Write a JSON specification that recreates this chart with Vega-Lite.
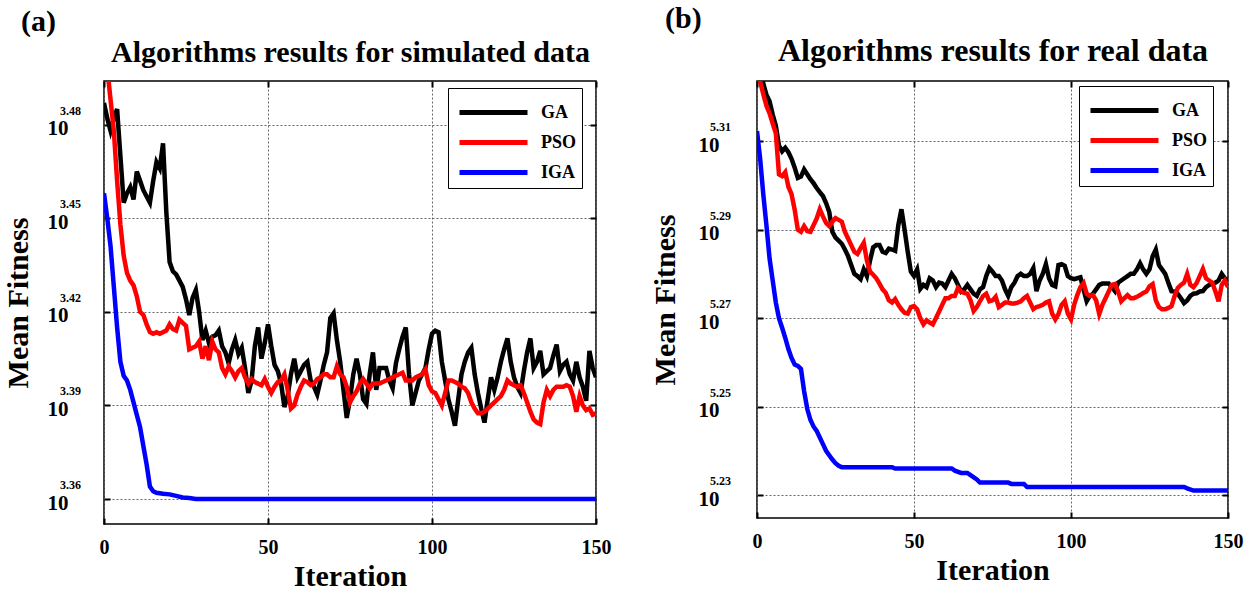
{
  "$schema": "https://vega.github.io/schema/vega-lite/v6.json",
  "background": "white",
  "padding": {"left": 2, "top": 3, "right": 5, "bottom": 5},
  "config": {
    "view": {"stroke": "black", "strokeWidth": 1.5},
    "font": "Liberation Serif",
    "text": {"font": "Liberation Serif"}
  },
  "resolve": {"scale": {"color": "independent"}, "legend": {"color": "independent"}},
  "datasets": {
    "sim": [
      {"alg":"GA","iter":0,"v":3.487},{"alg":"GA","iter":1,"v":3.482},{"alg":"GA","iter":2,"v":3.478},{"alg":"GA","iter":3,"v":3.482},{"alg":"GA","iter":4,"v":3.485},{"alg":"GA","iter":5,"v":3.47},{"alg":"GA","iter":6,"v":3.455},{"alg":"GA","iter":7,"v":3.458},{"alg":"GA","iter":8,"v":3.46},{"alg":"GA","iter":9,"v":3.456},
      {"alg":"GA","iter":10,"v":3.465},{"alg":"GA","iter":11,"v":3.462},{"alg":"GA","iter":12,"v":3.459},{"alg":"GA","iter":13,"v":3.457},{"alg":"GA","iter":14,"v":3.455},{"alg":"GA","iter":15,"v":3.462},{"alg":"GA","iter":16,"v":3.468},{"alg":"GA","iter":17,"v":3.466},{"alg":"GA","iter":18,"v":3.474},{"alg":"GA","iter":19,"v":3.452},
      {"alg":"GA","iter":20,"v":3.436},{"alg":"GA","iter":21,"v":3.433},{"alg":"GA","iter":22,"v":3.432},{"alg":"GA","iter":23,"v":3.43},{"alg":"GA","iter":24,"v":3.428},{"alg":"GA","iter":25,"v":3.424},{"alg":"GA","iter":26,"v":3.419},{"alg":"GA","iter":27,"v":3.4245},{"alg":"GA","iter":28,"v":3.427},{"alg":"GA","iter":29,"v":3.42},
      {"alg":"GA","iter":30,"v":3.411},{"alg":"GA","iter":31,"v":3.414},{"alg":"GA","iter":32,"v":3.41},{"alg":"GA","iter":33,"v":3.412},{"alg":"GA","iter":34,"v":3.4125},{"alg":"GA","iter":35,"v":3.414},{"alg":"GA","iter":36,"v":3.409},{"alg":"GA","iter":37,"v":3.407},{"alg":"GA","iter":38,"v":3.4035},{"alg":"GA","iter":39,"v":3.408},
      {"alg":"GA","iter":40,"v":3.411},{"alg":"GA","iter":41,"v":3.4065},{"alg":"GA","iter":42,"v":3.4085},{"alg":"GA","iter":43,"v":3.402},{"alg":"GA","iter":44,"v":3.394},{"alg":"GA","iter":45,"v":3.398},{"alg":"GA","iter":46,"v":3.409},{"alg":"GA","iter":47,"v":3.415},{"alg":"GA","iter":48,"v":3.405},{"alg":"GA","iter":49,"v":3.41},
      {"alg":"GA","iter":50,"v":3.416},{"alg":"GA","iter":51,"v":3.409},{"alg":"GA","iter":52,"v":3.403},{"alg":"GA","iter":53,"v":3.401},{"alg":"GA","iter":54,"v":3.397},{"alg":"GA","iter":55,"v":3.3895},{"alg":"GA","iter":56,"v":3.393},{"alg":"GA","iter":57,"v":3.4},{"alg":"GA","iter":58,"v":3.405},{"alg":"GA","iter":59,"v":3.399},
      {"alg":"GA","iter":60,"v":3.401},{"alg":"GA","iter":61,"v":3.403},{"alg":"GA","iter":62,"v":3.404},{"alg":"GA","iter":63,"v":3.398},{"alg":"GA","iter":64,"v":3.396},{"alg":"GA","iter":65,"v":3.3935},{"alg":"GA","iter":66,"v":3.398},{"alg":"GA","iter":67,"v":3.403},{"alg":"GA","iter":68,"v":3.407},{"alg":"GA","iter":69,"v":3.418},
      {"alg":"GA","iter":70,"v":3.4195},{"alg":"GA","iter":71,"v":3.411},{"alg":"GA","iter":72,"v":3.404},{"alg":"GA","iter":73,"v":3.395},{"alg":"GA","iter":74,"v":3.386},{"alg":"GA","iter":75,"v":3.392},{"alg":"GA","iter":76,"v":3.4},{"alg":"GA","iter":77,"v":3.405},{"alg":"GA","iter":78,"v":3.4},{"alg":"GA","iter":79,"v":3.392},
      {"alg":"GA","iter":80,"v":3.3905},{"alg":"GA","iter":81,"v":3.4},{"alg":"GA","iter":82,"v":3.407},{"alg":"GA","iter":83,"v":3.395},{"alg":"GA","iter":84,"v":3.402},{"alg":"GA","iter":85,"v":3.402},{"alg":"GA","iter":86,"v":3.402},{"alg":"GA","iter":87,"v":3.398},{"alg":"GA","iter":88,"v":3.3955},{"alg":"GA","iter":89,"v":3.4035},
      {"alg":"GA","iter":90,"v":3.408},{"alg":"GA","iter":91,"v":3.412},{"alg":"GA","iter":92,"v":3.415},{"alg":"GA","iter":93,"v":3.4},{"alg":"GA","iter":94,"v":3.39},{"alg":"GA","iter":95,"v":3.394},{"alg":"GA","iter":96,"v":3.398},{"alg":"GA","iter":97,"v":3.4},{"alg":"GA","iter":98,"v":3.402},{"alg":"GA","iter":99,"v":3.408},
      {"alg":"GA","iter":100,"v":3.413},{"alg":"GA","iter":101,"v":3.414},{"alg":"GA","iter":102,"v":3.4135},{"alg":"GA","iter":103,"v":3.404},{"alg":"GA","iter":104,"v":3.398},{"alg":"GA","iter":105,"v":3.392},{"alg":"GA","iter":106,"v":3.388},{"alg":"GA","iter":107,"v":3.3835},{"alg":"GA","iter":108,"v":3.392},{"alg":"GA","iter":109,"v":3.4},
      {"alg":"GA","iter":110,"v":3.404},{"alg":"GA","iter":111,"v":3.407},{"alg":"GA","iter":112,"v":3.4085},{"alg":"GA","iter":113,"v":3.4},{"alg":"GA","iter":114,"v":3.394},{"alg":"GA","iter":115,"v":3.389},{"alg":"GA","iter":116,"v":3.3845},{"alg":"GA","iter":117,"v":3.392},{"alg":"GA","iter":118,"v":3.399},{"alg":"GA","iter":119,"v":3.395},
      {"alg":"GA","iter":120,"v":3.399},{"alg":"GA","iter":121,"v":3.404},{"alg":"GA","iter":122,"v":3.408},{"alg":"GA","iter":123,"v":3.4115},{"alg":"GA","iter":124,"v":3.404},{"alg":"GA","iter":125,"v":3.399},{"alg":"GA","iter":126,"v":3.396},{"alg":"GA","iter":127,"v":3.394},{"alg":"GA","iter":128,"v":3.401},{"alg":"GA","iter":129,"v":3.407},
      {"alg":"GA","iter":130,"v":3.4115},{"alg":"GA","iter":131,"v":3.402},{"alg":"GA","iter":132,"v":3.404},{"alg":"GA","iter":133,"v":3.4075},{"alg":"GA","iter":134,"v":3.4},{"alg":"GA","iter":135,"v":3.401},{"alg":"GA","iter":136,"v":3.402},{"alg":"GA","iter":137,"v":3.406},{"alg":"GA","iter":138,"v":3.4095},{"alg":"GA","iter":139,"v":3.401},
      {"alg":"GA","iter":140,"v":3.403},{"alg":"GA","iter":141,"v":3.404},{"alg":"GA","iter":142,"v":3.4},{"alg":"GA","iter":143,"v":3.398},{"alg":"GA","iter":144,"v":3.404},{"alg":"GA","iter":145,"v":3.399},{"alg":"GA","iter":146,"v":3.396},{"alg":"GA","iter":147,"v":3.3915},{"alg":"GA","iter":148,"v":3.4075},{"alg":"GA","iter":149,"v":3.402},{"alg":"GA","iter":150,"v":3.399},
      {"alg":"PSO","iter":0,"v":3.505},{"alg":"PSO","iter":1,"v":3.498},{"alg":"PSO","iter":2,"v":3.488},{"alg":"PSO","iter":3,"v":3.478},{"alg":"PSO","iter":4,"v":3.462},{"alg":"PSO","iter":5,"v":3.448},{"alg":"PSO","iter":6,"v":3.438},{"alg":"PSO","iter":7,"v":3.4325},{"alg":"PSO","iter":8,"v":3.43},{"alg":"PSO","iter":9,"v":3.4285},
      {"alg":"PSO","iter":10,"v":3.425},{"alg":"PSO","iter":11,"v":3.42},{"alg":"PSO","iter":12,"v":3.419},{"alg":"PSO","iter":13,"v":3.416},{"alg":"PSO","iter":14,"v":3.4135},{"alg":"PSO","iter":15,"v":3.413},{"alg":"PSO","iter":16,"v":3.4135},{"alg":"PSO","iter":17,"v":3.413},{"alg":"PSO","iter":18,"v":3.4135},{"alg":"PSO","iter":19,"v":3.414},
      {"alg":"PSO","iter":20,"v":3.416},{"alg":"PSO","iter":21,"v":3.4145},{"alg":"PSO","iter":22,"v":3.414},{"alg":"PSO","iter":23,"v":3.4175},{"alg":"PSO","iter":24,"v":3.4165},{"alg":"PSO","iter":25,"v":3.4155},{"alg":"PSO","iter":26,"v":3.408},{"alg":"PSO","iter":27,"v":3.4085},{"alg":"PSO","iter":28,"v":3.409},{"alg":"PSO","iter":29,"v":3.4105},
      {"alg":"PSO","iter":30,"v":3.405},{"alg":"PSO","iter":31,"v":3.409},{"alg":"PSO","iter":32,"v":3.4045},{"alg":"PSO","iter":33,"v":3.4105},{"alg":"PSO","iter":34,"v":3.408},{"alg":"PSO","iter":35,"v":3.407},{"alg":"PSO","iter":36,"v":3.402},{"alg":"PSO","iter":37,"v":3.4},{"alg":"PSO","iter":38,"v":3.4025},{"alg":"PSO","iter":39,"v":3.401},
      {"alg":"PSO","iter":40,"v":3.399},{"alg":"PSO","iter":41,"v":3.401},{"alg":"PSO","iter":42,"v":3.402},{"alg":"PSO","iter":43,"v":3.399},{"alg":"PSO","iter":44,"v":3.397},{"alg":"PSO","iter":45,"v":3.3985},{"alg":"PSO","iter":46,"v":3.3975},{"alg":"PSO","iter":47,"v":3.397},{"alg":"PSO","iter":48,"v":3.3965},{"alg":"PSO","iter":49,"v":3.3985},
      {"alg":"PSO","iter":50,"v":3.396},{"alg":"PSO","iter":51,"v":3.394},{"alg":"PSO","iter":52,"v":3.396},{"alg":"PSO","iter":53,"v":3.3975},{"alg":"PSO","iter":54,"v":3.398},{"alg":"PSO","iter":55,"v":3.4},{"alg":"PSO","iter":56,"v":3.395},{"alg":"PSO","iter":57,"v":3.389},{"alg":"PSO","iter":58,"v":3.39},{"alg":"PSO","iter":59,"v":3.3935},
      {"alg":"PSO","iter":60,"v":3.396},{"alg":"PSO","iter":61,"v":3.398},{"alg":"PSO","iter":62,"v":3.3975},{"alg":"PSO","iter":63,"v":3.3965},{"alg":"PSO","iter":64,"v":3.397},{"alg":"PSO","iter":65,"v":3.3985},{"alg":"PSO","iter":66,"v":3.399},{"alg":"PSO","iter":67,"v":3.4},{"alg":"PSO","iter":68,"v":3.4},{"alg":"PSO","iter":69,"v":3.399},
      {"alg":"PSO","iter":70,"v":3.399},{"alg":"PSO","iter":71,"v":3.4025},{"alg":"PSO","iter":72,"v":3.4},{"alg":"PSO","iter":73,"v":3.399},{"alg":"PSO","iter":74,"v":3.396},{"alg":"PSO","iter":75,"v":3.391},{"alg":"PSO","iter":76,"v":3.393},{"alg":"PSO","iter":77,"v":3.3945},{"alg":"PSO","iter":78,"v":3.397},{"alg":"PSO","iter":79,"v":3.3985},
      {"alg":"PSO","iter":80,"v":3.397},{"alg":"PSO","iter":81,"v":3.3955},{"alg":"PSO","iter":82,"v":3.397},{"alg":"PSO","iter":83,"v":3.397},{"alg":"PSO","iter":84,"v":3.397},{"alg":"PSO","iter":85,"v":3.3975},{"alg":"PSO","iter":86,"v":3.398},{"alg":"PSO","iter":87,"v":3.3985},{"alg":"PSO","iter":88,"v":3.399},{"alg":"PSO","iter":89,"v":3.3995},
      {"alg":"PSO","iter":90,"v":3.4},{"alg":"PSO","iter":91,"v":3.4005},{"alg":"PSO","iter":92,"v":3.398},{"alg":"PSO","iter":93,"v":3.398},{"alg":"PSO","iter":94,"v":3.398},{"alg":"PSO","iter":95,"v":3.399},{"alg":"PSO","iter":96,"v":3.3995},{"alg":"PSO","iter":97,"v":3.4},{"alg":"PSO","iter":98,"v":3.4015},{"alg":"PSO","iter":99,"v":3.3965},
      {"alg":"PSO","iter":100,"v":3.3945},{"alg":"PSO","iter":101,"v":3.394},{"alg":"PSO","iter":102,"v":3.392},{"alg":"PSO","iter":103,"v":3.39},{"alg":"PSO","iter":104,"v":3.394},{"alg":"PSO","iter":105,"v":3.398},{"alg":"PSO","iter":106,"v":3.398},{"alg":"PSO","iter":107,"v":3.3975},{"alg":"PSO","iter":108,"v":3.397},{"alg":"PSO","iter":109,"v":3.396},
      {"alg":"PSO","iter":110,"v":3.3955},{"alg":"PSO","iter":111,"v":3.394},{"alg":"PSO","iter":112,"v":3.391},{"alg":"PSO","iter":113,"v":3.389},{"alg":"PSO","iter":114,"v":3.3875},{"alg":"PSO","iter":115,"v":3.3875},{"alg":"PSO","iter":116,"v":3.388},{"alg":"PSO","iter":117,"v":3.389},{"alg":"PSO","iter":118,"v":3.39},{"alg":"PSO","iter":119,"v":3.391},
      {"alg":"PSO","iter":120,"v":3.392},{"alg":"PSO","iter":121,"v":3.393},{"alg":"PSO","iter":122,"v":3.395},{"alg":"PSO","iter":123,"v":3.398},{"alg":"PSO","iter":124,"v":3.397},{"alg":"PSO","iter":125,"v":3.3965},{"alg":"PSO","iter":126,"v":3.396},{"alg":"PSO","iter":127,"v":3.3965},{"alg":"PSO","iter":128,"v":3.394},{"alg":"PSO","iter":129,"v":3.391},
      {"alg":"PSO","iter":130,"v":3.388},{"alg":"PSO","iter":131,"v":3.3855},{"alg":"PSO","iter":132,"v":3.3845},{"alg":"PSO","iter":133,"v":3.384},{"alg":"PSO","iter":134,"v":3.391},{"alg":"PSO","iter":135,"v":3.395},{"alg":"PSO","iter":136,"v":3.393},{"alg":"PSO","iter":137,"v":3.395},{"alg":"PSO","iter":138,"v":3.396},{"alg":"PSO","iter":139,"v":3.396},
      {"alg":"PSO","iter":140,"v":3.396},{"alg":"PSO","iter":141,"v":3.3965},{"alg":"PSO","iter":142,"v":3.396},{"alg":"PSO","iter":143,"v":3.393},{"alg":"PSO","iter":144,"v":3.388},{"alg":"PSO","iter":145,"v":3.393},{"alg":"PSO","iter":146,"v":3.39},{"alg":"PSO","iter":147,"v":3.3885},{"alg":"PSO","iter":148,"v":3.389},{"alg":"PSO","iter":149,"v":3.387},{"alg":"PSO","iter":150,"v":3.3875},
      {"alg":"IGA","iter":0,"v":3.458},{"alg":"IGA","iter":1,"v":3.45},{"alg":"IGA","iter":2,"v":3.441},{"alg":"IGA","iter":3,"v":3.428},{"alg":"IGA","iter":4,"v":3.415},{"alg":"IGA","iter":5,"v":3.404},{"alg":"IGA","iter":6,"v":3.3995},{"alg":"IGA","iter":7,"v":3.398},{"alg":"IGA","iter":8,"v":3.395},{"alg":"IGA","iter":9,"v":3.391},
      {"alg":"IGA","iter":10,"v":3.387},{"alg":"IGA","iter":11,"v":3.383},{"alg":"IGA","iter":12,"v":3.377},{"alg":"IGA","iter":13,"v":3.371},{"alg":"IGA","iter":14,"v":3.364},{"alg":"IGA","iter":15,"v":3.3625},{"alg":"IGA","iter":16,"v":3.362},{"alg":"IGA","iter":18,"v":3.3617},{"alg":"IGA","iter":20,"v":3.3615},{"alg":"IGA","iter":22,"v":3.361},
      {"alg":"IGA","iter":24,"v":3.3605},{"alg":"IGA","iter":26,"v":3.3603},{"alg":"IGA","iter":28,"v":3.36},{"alg":"IGA","iter":29,"v":3.36},{"alg":"IGA","iter":60,"v":3.36},{"alg":"IGA","iter":100,"v":3.36},{"alg":"IGA","iter":150,"v":3.36}
    ],
    "real": [
      {"alg":"GA","iter":0,"v":5.33},{"alg":"GA","iter":1,"v":5.327},{"alg":"GA","iter":2,"v":5.323},{"alg":"GA","iter":3,"v":5.3205},{"alg":"GA","iter":4,"v":5.319},{"alg":"GA","iter":5,"v":5.316},{"alg":"GA","iter":6,"v":5.3135},{"alg":"GA","iter":7,"v":5.309},{"alg":"GA","iter":8,"v":5.3077},{"alg":"GA","iter":9,"v":5.3085},
      {"alg":"GA","iter":10,"v":5.3075},{"alg":"GA","iter":11,"v":5.306},{"alg":"GA","iter":12,"v":5.304},{"alg":"GA","iter":13,"v":5.3017},{"alg":"GA","iter":14,"v":5.302},{"alg":"GA","iter":15,"v":5.3036},{"alg":"GA","iter":16,"v":5.3025},{"alg":"GA","iter":17,"v":5.3014},{"alg":"GA","iter":18,"v":5.3005},{"alg":"GA","iter":19,"v":5.2994},
      {"alg":"GA","iter":20,"v":5.2985},{"alg":"GA","iter":21,"v":5.2976},{"alg":"GA","iter":22,"v":5.296},{"alg":"GA","iter":23,"v":5.294},{"alg":"GA","iter":24,"v":5.2895},{"alg":"GA","iter":25,"v":5.2882},{"alg":"GA","iter":26,"v":5.2875},{"alg":"GA","iter":27,"v":5.2868},{"alg":"GA","iter":28,"v":5.2855},{"alg":"GA","iter":29,"v":5.284},
      {"alg":"GA","iter":30,"v":5.282},{"alg":"GA","iter":31,"v":5.28},{"alg":"GA","iter":32,"v":5.2795},{"alg":"GA","iter":33,"v":5.2788},{"alg":"GA","iter":34,"v":5.281},{"alg":"GA","iter":35,"v":5.2795},{"alg":"GA","iter":36,"v":5.283},{"alg":"GA","iter":37,"v":5.286},{"alg":"GA","iter":38,"v":5.2865},{"alg":"GA","iter":39,"v":5.2865},
      {"alg":"GA","iter":40,"v":5.285},{"alg":"GA","iter":41,"v":5.2847},{"alg":"GA","iter":42,"v":5.2857},{"alg":"GA","iter":43,"v":5.2855},{"alg":"GA","iter":44,"v":5.2852},{"alg":"GA","iter":45,"v":5.291},{"alg":"GA","iter":46,"v":5.2946},{"alg":"GA","iter":47,"v":5.29},{"alg":"GA","iter":48,"v":5.285},{"alg":"GA","iter":49,"v":5.2805},
      {"alg":"GA","iter":50,"v":5.2795},{"alg":"GA","iter":51,"v":5.281},{"alg":"GA","iter":52,"v":5.2766},{"alg":"GA","iter":53,"v":5.2775},{"alg":"GA","iter":54,"v":5.277},{"alg":"GA","iter":55,"v":5.279},{"alg":"GA","iter":56,"v":5.2785},{"alg":"GA","iter":57,"v":5.277},{"alg":"GA","iter":58,"v":5.278},{"alg":"GA","iter":59,"v":5.2778},
      {"alg":"GA","iter":60,"v":5.277},{"alg":"GA","iter":61,"v":5.2785},{"alg":"GA","iter":62,"v":5.28},{"alg":"GA","iter":63,"v":5.279},{"alg":"GA","iter":64,"v":5.2775},{"alg":"GA","iter":65,"v":5.276},{"alg":"GA","iter":66,"v":5.2765},{"alg":"GA","iter":67,"v":5.2775},{"alg":"GA","iter":68,"v":5.2765},{"alg":"GA","iter":69,"v":5.2755},
      {"alg":"GA","iter":70,"v":5.275},{"alg":"GA","iter":71,"v":5.2765},{"alg":"GA","iter":72,"v":5.277},{"alg":"GA","iter":73,"v":5.2795},{"alg":"GA","iter":74,"v":5.2813},{"alg":"GA","iter":75,"v":5.2805},{"alg":"GA","iter":76,"v":5.2795},{"alg":"GA","iter":77,"v":5.2795},{"alg":"GA","iter":78,"v":5.2785},{"alg":"GA","iter":79,"v":5.2765},
      {"alg":"GA","iter":80,"v":5.275},{"alg":"GA","iter":81,"v":5.277},{"alg":"GA","iter":82,"v":5.278},{"alg":"GA","iter":83,"v":5.2795},{"alg":"GA","iter":84,"v":5.28},{"alg":"GA","iter":85,"v":5.2795},{"alg":"GA","iter":86,"v":5.2795},{"alg":"GA","iter":87,"v":5.28},{"alg":"GA","iter":88,"v":5.2813},{"alg":"GA","iter":89,"v":5.2761},
      {"alg":"GA","iter":90,"v":5.2785},{"alg":"GA","iter":91,"v":5.28},{"alg":"GA","iter":92,"v":5.2822},{"alg":"GA","iter":93,"v":5.279},{"alg":"GA","iter":94,"v":5.2775},{"alg":"GA","iter":95,"v":5.2772},{"alg":"GA","iter":96,"v":5.282},{"alg":"GA","iter":97,"v":5.2822},{"alg":"GA","iter":98,"v":5.2818},{"alg":"GA","iter":99,"v":5.2795},
      {"alg":"GA","iter":100,"v":5.279},{"alg":"GA","iter":101,"v":5.2788},{"alg":"GA","iter":102,"v":5.279},{"alg":"GA","iter":103,"v":5.2792},{"alg":"GA","iter":104,"v":5.2765},{"alg":"GA","iter":105,"v":5.2738},{"alg":"GA","iter":106,"v":5.275},{"alg":"GA","iter":107,"v":5.2755},{"alg":"GA","iter":108,"v":5.2765},{"alg":"GA","iter":109,"v":5.2775},
      {"alg":"GA","iter":110,"v":5.2778},{"alg":"GA","iter":111,"v":5.2778},{"alg":"GA","iter":112,"v":5.2778},{"alg":"GA","iter":113,"v":5.277},{"alg":"GA","iter":114,"v":5.2761},{"alg":"GA","iter":115,"v":5.278},{"alg":"GA","iter":116,"v":5.2785},{"alg":"GA","iter":117,"v":5.279},{"alg":"GA","iter":118,"v":5.2795},{"alg":"GA","iter":119,"v":5.28},
      {"alg":"GA","iter":120,"v":5.28},{"alg":"GA","iter":121,"v":5.281},{"alg":"GA","iter":122,"v":5.2824},{"alg":"GA","iter":123,"v":5.281},{"alg":"GA","iter":124,"v":5.28},{"alg":"GA","iter":125,"v":5.281},{"alg":"GA","iter":126,"v":5.284},{"alg":"GA","iter":127,"v":5.2855},{"alg":"GA","iter":128,"v":5.282},{"alg":"GA","iter":129,"v":5.281},
      {"alg":"GA","iter":130,"v":5.28},{"alg":"GA","iter":131,"v":5.278},{"alg":"GA","iter":132,"v":5.2761},{"alg":"GA","iter":133,"v":5.276},{"alg":"GA","iter":134,"v":5.2755},{"alg":"GA","iter":135,"v":5.2745},{"alg":"GA","iter":136,"v":5.2734},{"alg":"GA","iter":137,"v":5.274},{"alg":"GA","iter":138,"v":5.275},{"alg":"GA","iter":139,"v":5.2755},
      {"alg":"GA","iter":140,"v":5.2756},{"alg":"GA","iter":141,"v":5.276},{"alg":"GA","iter":142,"v":5.2761},{"alg":"GA","iter":143,"v":5.277},{"alg":"GA","iter":144,"v":5.2775},{"alg":"GA","iter":145,"v":5.2778},{"alg":"GA","iter":146,"v":5.278},{"alg":"GA","iter":147,"v":5.2785},{"alg":"GA","iter":148,"v":5.28},{"alg":"GA","iter":149,"v":5.279},{"alg":"GA","iter":150,"v":5.2785},
      {"alg":"PSO","iter":0,"v":5.3255},{"alg":"PSO","iter":1,"v":5.3235},{"alg":"PSO","iter":2,"v":5.3206},{"alg":"PSO","iter":3,"v":5.318},{"alg":"PSO","iter":4,"v":5.3163},{"alg":"PSO","iter":5,"v":5.314},{"alg":"PSO","iter":6,"v":5.3118},{"alg":"PSO","iter":7,"v":5.3025},{"alg":"PSO","iter":8,"v":5.3021},{"alg":"PSO","iter":9,"v":5.303},
      {"alg":"PSO","iter":10,"v":5.2997},{"alg":"PSO","iter":11,"v":5.298},{"alg":"PSO","iter":12,"v":5.2945},{"alg":"PSO","iter":13,"v":5.29},{"alg":"PSO","iter":14,"v":5.2895},{"alg":"PSO","iter":15,"v":5.2908},{"alg":"PSO","iter":16,"v":5.2897},{"alg":"PSO","iter":17,"v":5.2895},{"alg":"PSO","iter":18,"v":5.291},{"alg":"PSO","iter":19,"v":5.2925},
      {"alg":"PSO","iter":20,"v":5.2946},{"alg":"PSO","iter":21,"v":5.293},{"alg":"PSO","iter":22,"v":5.2915},{"alg":"PSO","iter":23,"v":5.2908},{"alg":"PSO","iter":24,"v":5.2918},{"alg":"PSO","iter":25,"v":5.2926},{"alg":"PSO","iter":26,"v":5.2922},{"alg":"PSO","iter":27,"v":5.2918},{"alg":"PSO","iter":28,"v":5.2895},{"alg":"PSO","iter":29,"v":5.288},
      {"alg":"PSO","iter":30,"v":5.2865},{"alg":"PSO","iter":31,"v":5.285},{"alg":"PSO","iter":32,"v":5.2845},{"alg":"PSO","iter":33,"v":5.2858},{"alg":"PSO","iter":34,"v":5.287},{"alg":"PSO","iter":35,"v":5.283},{"alg":"PSO","iter":36,"v":5.2805},{"alg":"PSO","iter":37,"v":5.2798},{"alg":"PSO","iter":38,"v":5.279},{"alg":"PSO","iter":39,"v":5.2778},
      {"alg":"PSO","iter":40,"v":5.2765},{"alg":"PSO","iter":41,"v":5.2757},{"alg":"PSO","iter":42,"v":5.274},{"alg":"PSO","iter":43,"v":5.2735},{"alg":"PSO","iter":44,"v":5.2743},{"alg":"PSO","iter":45,"v":5.273},{"alg":"PSO","iter":46,"v":5.272},{"alg":"PSO","iter":47,"v":5.2712},{"alg":"PSO","iter":48,"v":5.271},{"alg":"PSO","iter":49,"v":5.2725},
      {"alg":"PSO","iter":50,"v":5.2727},{"alg":"PSO","iter":51,"v":5.272},{"alg":"PSO","iter":52,"v":5.27},{"alg":"PSO","iter":53,"v":5.2686},{"alg":"PSO","iter":54,"v":5.2695},{"alg":"PSO","iter":55,"v":5.269},{"alg":"PSO","iter":56,"v":5.2686},{"alg":"PSO","iter":57,"v":5.27},{"alg":"PSO","iter":58,"v":5.2715},{"alg":"PSO","iter":59,"v":5.273},
      {"alg":"PSO","iter":60,"v":5.2745},{"alg":"PSO","iter":61,"v":5.2745},{"alg":"PSO","iter":62,"v":5.275},{"alg":"PSO","iter":63,"v":5.275},{"alg":"PSO","iter":64,"v":5.2768},{"alg":"PSO","iter":65,"v":5.276},{"alg":"PSO","iter":66,"v":5.2757},{"alg":"PSO","iter":67,"v":5.2755},{"alg":"PSO","iter":68,"v":5.274},{"alg":"PSO","iter":69,"v":5.2716},
      {"alg":"PSO","iter":70,"v":5.2725},{"alg":"PSO","iter":71,"v":5.2738},{"alg":"PSO","iter":72,"v":5.275},{"alg":"PSO","iter":73,"v":5.2755},{"alg":"PSO","iter":74,"v":5.2738},{"alg":"PSO","iter":75,"v":5.274},{"alg":"PSO","iter":76,"v":5.2748},{"alg":"PSO","iter":77,"v":5.2725},{"alg":"PSO","iter":78,"v":5.273},{"alg":"PSO","iter":79,"v":5.2735},
      {"alg":"PSO","iter":80,"v":5.2735},{"alg":"PSO","iter":81,"v":5.2733},{"alg":"PSO","iter":82,"v":5.2733},{"alg":"PSO","iter":83,"v":5.2735},{"alg":"PSO","iter":84,"v":5.2738},{"alg":"PSO","iter":85,"v":5.2745},{"alg":"PSO","iter":86,"v":5.275},{"alg":"PSO","iter":87,"v":5.2735},{"alg":"PSO","iter":88,"v":5.272},{"alg":"PSO","iter":89,"v":5.2725},
      {"alg":"PSO","iter":90,"v":5.2727},{"alg":"PSO","iter":91,"v":5.273},{"alg":"PSO","iter":92,"v":5.2735},{"alg":"PSO","iter":93,"v":5.2738},{"alg":"PSO","iter":94,"v":5.271},{"alg":"PSO","iter":95,"v":5.2697},{"alg":"PSO","iter":96,"v":5.2709},{"alg":"PSO","iter":97,"v":5.273},{"alg":"PSO","iter":98,"v":5.2738},{"alg":"PSO","iter":99,"v":5.271},
      {"alg":"PSO","iter":100,"v":5.2697},{"alg":"PSO","iter":101,"v":5.273},{"alg":"PSO","iter":102,"v":5.2752},{"alg":"PSO","iter":103,"v":5.277},{"alg":"PSO","iter":104,"v":5.2779},{"alg":"PSO","iter":105,"v":5.2755},{"alg":"PSO","iter":106,"v":5.275},{"alg":"PSO","iter":107,"v":5.2752},{"alg":"PSO","iter":108,"v":5.274},{"alg":"PSO","iter":109,"v":5.2709},
      {"alg":"PSO","iter":110,"v":5.273},{"alg":"PSO","iter":111,"v":5.2745},{"alg":"PSO","iter":112,"v":5.276},{"alg":"PSO","iter":113,"v":5.2775},{"alg":"PSO","iter":114,"v":5.2777},{"alg":"PSO","iter":115,"v":5.276},{"alg":"PSO","iter":116,"v":5.2738},{"alg":"PSO","iter":117,"v":5.2745},{"alg":"PSO","iter":118,"v":5.2752},{"alg":"PSO","iter":119,"v":5.2745},
      {"alg":"PSO","iter":120,"v":5.2745},{"alg":"PSO","iter":121,"v":5.2748},{"alg":"PSO","iter":122,"v":5.2752},{"alg":"PSO","iter":123,"v":5.2757},{"alg":"PSO","iter":124,"v":5.276},{"alg":"PSO","iter":125,"v":5.2772},{"alg":"PSO","iter":126,"v":5.2777},{"alg":"PSO","iter":127,"v":5.274},{"alg":"PSO","iter":128,"v":5.2725},{"alg":"PSO","iter":129,"v":5.272},
      {"alg":"PSO","iter":130,"v":5.272},{"alg":"PSO","iter":131,"v":5.2723},{"alg":"PSO","iter":132,"v":5.2727},{"alg":"PSO","iter":133,"v":5.275},{"alg":"PSO","iter":134,"v":5.2768},{"alg":"PSO","iter":135,"v":5.2775},{"alg":"PSO","iter":136,"v":5.278},{"alg":"PSO","iter":137,"v":5.28},{"alg":"PSO","iter":138,"v":5.2775},{"alg":"PSO","iter":139,"v":5.277},
      {"alg":"PSO","iter":140,"v":5.2779},{"alg":"PSO","iter":141,"v":5.2795},{"alg":"PSO","iter":142,"v":5.2811},{"alg":"PSO","iter":143,"v":5.279},{"alg":"PSO","iter":144,"v":5.2785},{"alg":"PSO","iter":145,"v":5.278},{"alg":"PSO","iter":146,"v":5.276},{"alg":"PSO","iter":147,"v":5.2738},{"alg":"PSO","iter":148,"v":5.2775},{"alg":"PSO","iter":149,"v":5.2785},{"alg":"PSO","iter":150,"v":5.277},
      {"alg":"IGA","iter":0,"v":5.3123},{"alg":"IGA","iter":1,"v":5.306},{"alg":"IGA","iter":2,"v":5.298},{"alg":"IGA","iter":3,"v":5.291},{"alg":"IGA","iter":4,"v":5.2835},{"alg":"IGA","iter":5,"v":5.2785},{"alg":"IGA","iter":6,"v":5.2735},{"alg":"IGA","iter":7,"v":5.27},{"alg":"IGA","iter":8,"v":5.2678},{"alg":"IGA","iter":9,"v":5.2655},
      {"alg":"IGA","iter":10,"v":5.263},{"alg":"IGA","iter":11,"v":5.261},{"alg":"IGA","iter":12,"v":5.2595},{"alg":"IGA","iter":13,"v":5.2592},{"alg":"IGA","iter":14,"v":5.2585},{"alg":"IGA","iter":15,"v":5.2535},{"alg":"IGA","iter":16,"v":5.2495},{"alg":"IGA","iter":17,"v":5.247},{"alg":"IGA","iter":18,"v":5.2455},{"alg":"IGA","iter":19,"v":5.2445},
      {"alg":"IGA","iter":20,"v":5.243},{"alg":"IGA","iter":21,"v":5.2415},{"alg":"IGA","iter":22,"v":5.24},{"alg":"IGA","iter":23,"v":5.239},{"alg":"IGA","iter":24,"v":5.238},{"alg":"IGA","iter":25,"v":5.2372},{"alg":"IGA","iter":26,"v":5.2366},{"alg":"IGA","iter":27,"v":5.2363},{"alg":"IGA","iter":43,"v":5.2363},{"alg":"IGA","iter":44,"v":5.236},
      {"alg":"IGA","iter":62,"v":5.236},{"alg":"IGA","iter":63,"v":5.2355},{"alg":"IGA","iter":65,"v":5.235},{"alg":"IGA","iter":67,"v":5.235},{"alg":"IGA","iter":68,"v":5.2345},{"alg":"IGA","iter":70,"v":5.2335},{"alg":"IGA","iter":71,"v":5.2328},{"alg":"IGA","iter":80,"v":5.2328},{"alg":"IGA","iter":81,"v":5.2325},{"alg":"IGA","iter":85,"v":5.2325},
      {"alg":"IGA","iter":86,"v":5.2318},{"alg":"IGA","iter":136,"v":5.2318},{"alg":"IGA","iter":137,"v":5.2315},{"alg":"IGA","iter":139,"v":5.231},{"alg":"IGA","iter":150,"v":5.231}
    ],
    "simTicks": [
      {"t":3.36,"lab":"3.36"},{"t":3.39,"lab":"3.39"},{"t":3.42,"lab":"3.42"},{"t":3.45,"lab":"3.45"},{"t":3.48,"lab":"3.48"}
    ],
    "realTicks": [
      {"t":5.23,"lab":"5.23"},{"t":5.25,"lab":"5.25"},{"t":5.27,"lab":"5.27"},{"t":5.29,"lab":"5.29"},{"t":5.31,"lab":"5.31"}
    ]
  },
  "hconcat": [
    {
      "width": 492,
      "height": 443,
      "title": {"text": "(a)", "anchor": "start", "frame": "bounds", "font": "Liberation Serif", "fontSize": 30, "fontWeight": "bold", "color": "black", "offset": 0, "dx": 18},
      "layer": [
        {
          "data": {"name": "sim"},
          "mark": {"type": "line", "strokeWidth": 4.5, "clip": true},
          "encoding": {
            "x": {"field": "iter", "type": "quantitative", "scale": {"domain": [0, 150], "nice": false},
              "axis": {"orient": "bottom", "values": [0, 50, 100, 150], "format": "d", "title": "Iteration", "domain": false, "tickSize": -6, "tickWidth": 2, "tickColor": "black",
                "labelFont": "Liberation Serif", "labelFontSize": 20, "labelFontWeight": "bold", "labelColor": "black", "labelPadding": 19, "labelFlush": false,
                "titleFont": "Liberation Serif", "titleFontSize": 30, "titleFontWeight": "bold", "titleColor": "black", "titlePadding": 4,
                "grid": true, "gridDash": [2, 2], "gridColor": "#666666", "gridWidth": 1}},
            "y": {"field": "v", "type": "quantitative", "scale": {"domain": [3.352, 3.494], "nice": false, "zero": false},
              "axis": {"orient": "left", "values": [3.36, 3.39, 3.42, 3.45, 3.48], "labelExpr": "'10'", "title": "Mean Fitness", "domain": false, "tickSize": -6, "tickWidth": 2, "tickColor": "black",
                "labelFont": "Liberation Serif", "labelFontSize": 21, "labelFontWeight": "bold", "labelColor": "black", "labelPadding": 42, "labelOffset": 4,
                "titleFont": "Liberation Serif", "titleFontSize": 30, "titleFontWeight": "bold", "titleColor": "black", "titlePadding": 14,
                "grid": true, "gridDash": [2, 2], "gridColor": "#666666", "gridWidth": 1}},
            "color": {"field": "alg", "type": "nominal", "scale": {"domain": ["GA", "PSO", "IGA"], "range": ["#000000", "#ff0000", "#0000ff"]},
              "legend": {"orient": "none", "legendX": 344, "legendY": 7, "title": null, "strokeColor": "black", "fillColor": "white", "padding": 5,
                "symbolType": "M-2,0H2", "symbolSize": 1156, "symbolStrokeWidth": 5, "symbolOffset": 21, "labelOffset": 28,
                "labelFont": "Liberation Serif", "labelFontSize": 18, "labelFontWeight": "bold", "labelColor": "black", "rowPadding": -2}}
          }
        },
        {
          "data": {"name": "simTicks"},
          "mark": {"type": "text", "align": "left", "baseline": "middle", "dx": -44, "dy": -14, "fontSize": 12, "fontWeight": "bold", "font": "Liberation Serif", "color": "black"},
          "encoding": {
            "x": {"datum": 0, "type": "quantitative",
              "axis": {"orient": "top", "values": [0, 50, 100, 150], "labels": false, "grid": false, "domain": false, "tickSize": -6, "tickWidth": 2, "tickColor": "black",
                "title": "Algorithms results for simulated data", "titleFont": "Liberation Serif", "titleFontSize": 30, "titleFontWeight": "bold", "titleColor": "black", "titlePadding": 13}},
            "y": {"field": "t", "type": "quantitative",
              "axis": {"orient": "right", "values": [3.36, 3.39, 3.42, 3.45, 3.48], "labels": false, "grid": false, "domain": false, "tickSize": -6, "tickWidth": 2, "tickColor": "black", "title": null}},
            "text": {"field": "lab", "type": "nominal"}
          }
        }
      ],
      "resolve": {"axis": {"x": "independent", "y": "independent"}}
    },
    {
      "width": 471,
      "height": 437,
      "title": {"text": "(b)", "anchor": "start", "frame": "bounds", "font": "Liberation Serif", "fontSize": 30, "fontWeight": "bold", "color": "black", "offset": 0, "dx": 15},
      "layer": [
        {
          "data": {"name": "real"},
          "mark": {"type": "line", "strokeWidth": 4.5, "clip": true},
          "encoding": {
            "x": {"field": "iter", "type": "quantitative", "scale": {"domain": [0, 150], "nice": false},
              "axis": {"orient": "bottom", "values": [0, 50, 100, 150], "format": "d", "title": "Iteration", "domain": false, "tickSize": -6, "tickWidth": 2, "tickColor": "black",
                "labelFont": "Liberation Serif", "labelFontSize": 20, "labelFontWeight": "bold", "labelColor": "black", "labelPadding": 19, "labelFlush": false,
                "titleFont": "Liberation Serif", "titleFontSize": 30, "titleFontWeight": "bold", "titleColor": "black", "titlePadding": 4,
                "grid": true, "gridDash": [2, 2], "gridColor": "#666666", "gridWidth": 1}},
            "y": {"field": "v", "type": "quantitative", "scale": {"domain": [5.2248, 5.3236], "nice": false, "zero": false},
              "axis": {"orient": "left", "values": [5.23, 5.25, 5.27, 5.29, 5.31], "labelExpr": "'10'", "title": "Mean Fitness", "domain": false, "tickSize": -6, "tickWidth": 2, "tickColor": "black",
                "labelFont": "Liberation Serif", "labelFontSize": 21, "labelFontWeight": "bold", "labelColor": "black", "labelPadding": 44, "labelOffset": 4,
                "titleFont": "Liberation Serif", "titleFontSize": 30, "titleFontWeight": "bold", "titleColor": "black", "titlePadding": 18,
                "grid": true, "gridDash": [2, 2], "gridColor": "#666666", "gridWidth": 1}},
            "color": {"field": "alg", "type": "nominal", "scale": {"domain": ["GA", "PSO", "IGA"], "range": ["#000000", "#ff0000", "#0000ff"]},
              "legend": {"orient": "none", "legendX": 322, "legendY": 5, "title": null, "strokeColor": "black", "fillColor": "white", "padding": 5,
                "symbolType": "M-2,0H2", "symbolSize": 1156, "symbolStrokeWidth": 5, "symbolOffset": 21, "labelOffset": 28,
                "labelFont": "Liberation Serif", "labelFontSize": 18, "labelFontWeight": "bold", "labelColor": "black", "rowPadding": -2}}
          }
        },
        {
          "data": {"name": "realTicks"},
          "mark": {"type": "text", "align": "left", "baseline": "middle", "dx": -47, "dy": -14, "fontSize": 12, "fontWeight": "bold", "font": "Liberation Serif", "color": "black"},
          "encoding": {
            "x": {"datum": 0, "type": "quantitative",
              "axis": {"orient": "top", "values": [0, 50, 100, 150], "labels": false, "grid": false, "domain": false, "tickSize": -6, "tickWidth": 2, "tickColor": "black",
                "title": "Algorithms results for real data", "titleFont": "Liberation Serif", "titleFontSize": 32, "titleFontWeight": "bold", "titleColor": "black", "titlePadding": 13}},
            "y": {"field": "t", "type": "quantitative",
              "axis": {"orient": "right", "values": [5.23, 5.25, 5.27, 5.29, 5.31], "labels": false, "grid": false, "domain": false, "tickSize": -6, "tickWidth": 2, "tickColor": "black", "title": null}},
            "text": {"field": "lab", "type": "nominal"}
          }
        }
      ],
      "resolve": {"axis": {"x": "independent", "y": "independent"}}
    }
  ],
  "spacing": 37
}
